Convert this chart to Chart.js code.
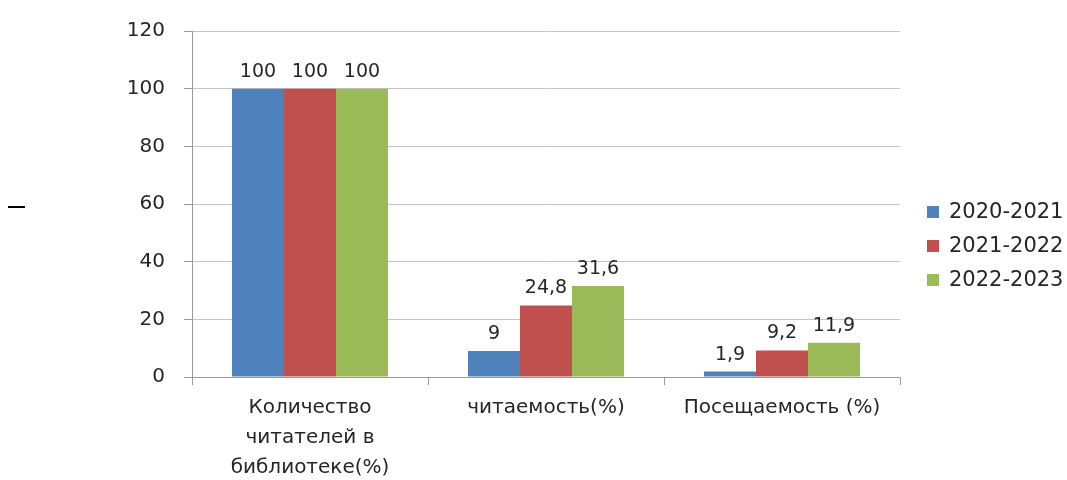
<!DOCTYPE html>
<html>
<head>
<meta charset="utf-8">
<script src="https://cdn.jsdelivr.net/npm/chart.js@4/dist/chart.umd.min.js"></script>
<style>
  html, body { margin: 0; padding: 0; background: #fff; }
  #wrap { position: relative; width: 1067px; height: 480px; }
  #dash { position: absolute; left: 8px; top: 206px; width: 17px; height: 2px; background: #000; }
</style>
</head>
<body>
<div id="wrap">
  <canvas id="c" width="1067" height="480"></canvas>
  <div id="dash"></div>
</div>
<script>
const categories = [["Количество", "читателей в", "библиотеке(%)"], "читаемость(%)", "Посещаемость (%)"];
const seriesNames = ["2020-2021", "2021-2022", "2022-2023"];
const values2020 = [100, 9, 1.9];
const values2021 = [100, 24.8, 9.2];
const values2022 = [100, 31.6, 11.9];
const yTicks = [0, 20, 40, 60, 80, 100, 120];
const colors = ["#4f81bd", "#c0504d", "#9bbb59"];

const FONT = "'DejaVu Sans', sans-serif";
const TEXT = "#262626";

const valueLabels = {
  id: 'valueLabels',
  afterDatasetsDraw(chart) {
    const ctx = chart.ctx;
    ctx.save();
    ctx.font = "19px " + FONT;
    ctx.fillStyle = TEXT;
    ctx.textAlign = "center";
    ctx.textBaseline = "alphabetic";
    chart.data.datasets.forEach((ds, i) => {
      const meta = chart.getDatasetMeta(i);
      meta.data.forEach((bar, j) => {
        const txt = String(ds.data[j]).replace('.', ',');
        ctx.fillText(txt, bar.x, bar.y - 12);
      });
    });
    ctx.restore();
  }
};

const sideLegend = {
  id: 'sideLegend',
  afterDraw(chart) {
    const ctx = chart.ctx;
    ctx.save();
    ctx.font = "21px " + FONT;
    ctx.textBaseline = "middle";
    ctx.textAlign = "left";
    const x0 = 927, y0 = 212, step = 34;
    chart.data.datasets.forEach((ds, i) => {
      const y = y0 + i * step;
      ctx.fillStyle = ds.backgroundColor;
      ctx.fillRect(x0, y - 6, 12, 12);
      ctx.fillStyle = TEXT;
      ctx.fillText(ds.label, x0 + 22, y + 1);
    });
    ctx.restore();
  }
};

new Chart(document.getElementById('c'), {
  type: 'bar',
  data: {
    labels: categories,
    datasets: [
      { label: seriesNames[0], data: values2020, backgroundColor: colors[0] },
      { label: seriesNames[1], data: values2021, backgroundColor: colors[1] },
      { label: seriesNames[2], data: values2022, backgroundColor: colors[2] }
    ]
  },
  options: {
    responsive: false,
    animation: false,
    devicePixelRatio: 1,
    layout: { padding: { top: 26, right: 167, bottom: 0, left: 0 } },
    datasets: { bar: { barPercentage: 1, categoryPercentage: 0.661 } },
    plugins: { legend: { display: false }, tooltip: { enabled: false } },
    scales: {
      x: {
        afterFit(scale) { scale.height = 103; },
        grid: { display: true, drawOnChartArea: false, drawTicks: true, tickLength: 8, offset: true, color: '#9a9a9a' },
        border: { color: '#9a9a9a' },
        ticks: { color: TEXT, font: { family: FONT, size: 20, lineHeight: 1.5 }, padding: 8, maxRotation: 0 }
      },
      y: {
        min: 0, max: 120,
        afterFit(scale) { scale.width = 192; },
        afterBuildTicks(scale) { scale.ticks = yTicks.map(v => ({ value: v })); },
        grid: { color: '#c4c4c4', tickColor: '#9a9a9a', tickLength: 8 },
        border: { color: '#9a9a9a' },
        ticks: { color: TEXT, font: { family: FONT, size: 20 }, padding: 19 }
      }
    }
  },
  plugins: [valueLabels, sideLegend]
});
</script>
</body>
</html>
